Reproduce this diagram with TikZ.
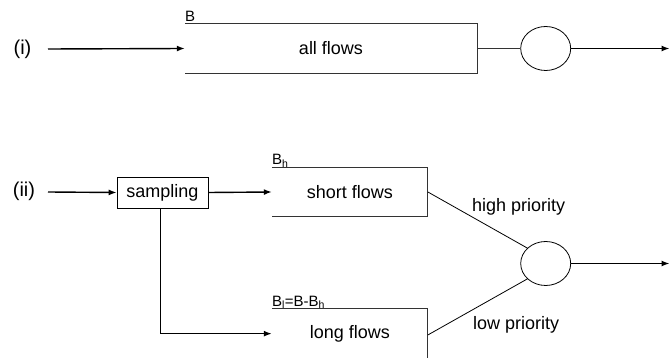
\documentclass[tikz,border=0pt]{standalone}
\usepackage{fontspec}
\setmainfont{Liberation Sans}
\usetikzlibrary{arrows.meta,shapes.geometric}
\tikzset{
  main/.style={font=\fontsize{18}{21}\selectfont},
  lbl/.style={font=\fontsize{15}{17}\selectfont, inner sep=0pt, anchor=base west},
  roman/.style={font=\fontsize{20}{23}\selectfont},
  queuebox/.style={rectangle, inner sep=0pt, main},
  server/.style={ellipse, draw, line width=0.8pt, minimum width=50pt, minimum height=44pt, inner sep=0pt},
  qline/.style={line width=0.9pt, draw=black!80},
  flow/.style={line width=1.4pt, -{Latex[length=8pt,width=6pt]}},
  link/.style={line width=0.8pt},
  samplebox/.style={rectangle, draw, line width=0.8pt, minimum width=91pt, minimum height=31pt, inner sep=0pt, main}
}
\begin{document}
\begin{tikzpicture}[x=1pt,y=-1pt]
\useasboundingbox (0,0) rectangle (670,358);
% ---- row (i)
\node[roman] (ri) at (22.5,49) {(i)};
\coordinate (in1) at (48,49);
\node[queuebox, minimum width=292pt, minimum height=49pt] (q1) at (331,48.5) {all flows};
\draw[qline] (q1.north west) -- (q1.north east) -- (q1.south east) -- (q1.south west);
\node[lbl] (b1) at ([yshift=2.5pt]q1.north west) {B};
\node[server] (s1) at (545.7,48.5) {};
\coordinate (out1) at (669.5,48.5);
\draw[flow] (in1) -- (q1.west);
\draw[qline] (q1.east) -- (s1.west);
\draw[flow] (s1.east) -- (out1);
% ---- row (ii)
\node[roman] (rii) at (24,191) {(ii)};
\coordinate (in2) at (48,192);
\node[samplebox] (samp) at (162.5,192.5) {sampling};
\node[queuebox, minimum width=155.7pt, minimum height=49.3pt] (q2) at (349.85,192) {short flows};
\draw[qline] (q2.north west) -- (q2.north east) -- (q2.south east) -- (q2.south west);
\node[lbl] (b2) at ([yshift=2.5pt]q2.north west) {B\textsubscript{h}};
\node[queuebox, minimum width=155.7pt, minimum height=49.3pt] (q3) at (349.85,333.65) {long flows};
\draw[qline] (q3.north west) -- (q3.north east) -- (q3.south east);
\node[lbl] (b3) at ([yshift=2.5pt]q3.north west) {B\textsubscript{l}=B-B\textsubscript{h}};
\node[server] (s2) at (545.7,263.5) {};
\coordinate (out2) at (669.5,263.5);
\draw[flow] (in2) -- (samp.west);
\draw[flow] (samp.east) -- (q2.west);
\draw[flow] ([xshift=-1.8pt]samp.south) |- (q3.west);
\draw[link] (q2.east) -- (s2.140);
\draw[link] ([yshift=-1.3pt]q3.west -| q3.east) -- (s2.220);
\draw[flow] (s2.east) -- (out2);
\node[main, anchor=base west, inner sep=0pt] (hp) at (472,211.5) {high priority};
\node[main, anchor=base west, inner sep=0pt] (lp) at (473,329.3) {low priority};
\end{tikzpicture}
\end{document}
